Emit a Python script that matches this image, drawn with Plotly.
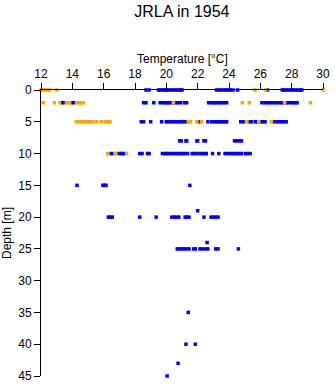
import plotly.graph_objects as go

# ---- data: temperature (degC) readings at each depth (m) ----
blue_d0 = [18.7, 18.9, 19.5, 19.6, 19.75, 19.9, 20.0, 20.15, 20.3, 20.45, 20.6, 20.75, 20.9, 21.0,
           23.2, 23.35, 23.5, 23.65, 23.8, 23.95, 24.1, 24.25, 24.55, 26.45,
           27.4, 27.5, 27.65, 27.8, 27.95, 28.1, 28.25, 28.4, 28.55, 28.65]
blue_d2 = [18.55, 18.7, 19.2, 19.6, 19.75, 19.9, 20.0, 20.1, 20.25, 20.45, 20.6, 20.75, 20.9, 21.15, 21.3,
           22.7, 22.85, 23.0, 23.1, 23.25, 23.4, 23.55, 23.7, 23.85,
           26.1, 26.3, 26.45, 26.6, 26.75, 26.9, 27.05, 27.2, 27.35, 27.5, 27.65, 27.8, 27.95, 28.1, 28.25, 28.35]
blue_d5 = [18.4, 18.55, 19.0, 19.7, 20.0, 20.1, 20.25, 20.4, 20.55, 20.7, 20.85, 21.0, 21.15, 21.3,
           22.1, 22.65, 22.9, 23.05, 23.2, 23.3, 23.45, 23.6, 23.75, 23.85,
           24.75, 24.9, 25.3, 25.45, 25.7, 25.85, 26.0, 26.15, 26.3, 26.85,
           27.05, 27.2, 27.35, 27.5, 27.65]
blue_d8 = [20.85, 20.95, 21.25, 21.3, 21.95, 22.0, 22.4, 22.5, 24.35, 24.5, 24.65, 24.8]
blue_d10 = [18.3, 18.45, 18.8, 18.9, 19.75, 19.9, 20.0, 20.15, 20.3, 20.45, 20.6, 20.75, 20.9,
            21.05, 21.2, 21.35, 21.65, 21.8, 21.95, 22.15, 22.3, 22.45, 22.55, 22.95, 23.35,
            23.75, 23.9, 24.05, 24.2, 24.35, 24.5, 24.65, 24.8, 25.05, 25.2, 25.35]
blue_d15 = [14.3, 15.95, 16.05, 16.15, 21.5]
blue_d19 = [22.0]
blue_d20 = [16.3, 16.4, 16.55, 18.3, 19.35, 20.35, 20.5, 20.65, 20.8, 21.2, 21.3, 21.45,
            22.4, 22.85, 23.0, 23.15, 23.3]
blue_d24 = [22.6]
blue_d25 = [20.7, 20.85, 21.0, 21.15, 21.3, 21.45, 21.75, 21.85, 22.15, 22.3, 22.5, 22.65,
            23.15, 23.3, 24.6]
blue_d35 = [21.4]
blue_d40 = [21.25, 21.85]
blue_d43 = [20.75]
blue_d45 = [20.05]

# blue readings drawn on top of the orange ones
blue_top_d2 = [13.4, 14.05]
blue_top_d10 = [16.5, 17.0, 17.15, 17.25]

orange_d0 = [12.0, 12.15, 12.3, 12.45, 12.55, 13.0, 25.65, 26.35, 30.0]
orange_d2 = [12.15, 12.85, 13.2, 13.35, 13.5, 13.65, 13.8, 13.95, 14.1, 14.25, 14.4, 14.55, 14.7,
             20.45, 24.85, 25.3, 27.55, 29.2]
orange_d5 = [14.25, 14.4, 14.55, 14.7, 14.85, 15.0, 15.15, 15.3, 15.55, 15.85, 16.1, 16.25, 16.4,
             21.4, 21.55, 21.95, 22.25, 25.15, 25.9, 26.7]
orange_d10 = [16.25, 16.4, 16.6, 16.75, 16.9, 17.3, 17.45]

x_ticks = [12, 14, 16, 18, 20, 22, 24, 26, 28, 30]
y_ticks = [0, 5, 10, 15, 20, 25, 30, 35, 40, 45]


def flatten(pairs):
    xs, ys = [], []
    for depth, temps in pairs:
        xs += temps
        ys += [depth] * len(temps)
    return xs, ys


bx, by = flatten([(0, blue_d0), (2, blue_d2), (5, blue_d5), (8, blue_d8), (10, blue_d10),
                  (15, blue_d15), (19, blue_d19), (20, blue_d20), (24, blue_d24), (25, blue_d25),
                  (35, blue_d35), (40, blue_d40), (43, blue_d43), (45, blue_d45)])
ox, oy = flatten([(0, orange_d0), (2, orange_d2), (5, orange_d5), (10, orange_d10)])
tx, ty = flatten([(2, blue_top_d2), (10, blue_top_d10)])

BLUE = "#0000ff"
ORANGE = "#ffa500"
mk = dict(symbol="square", size=3.5, line=dict(width=0))

fig = go.Figure()
fig.add_trace(go.Scatter(x=bx, y=by, mode="markers", marker=dict(color=BLUE, **mk), cliponaxis=False))
fig.add_trace(go.Scatter(x=ox, y=oy, mode="markers", marker=dict(color=ORANGE, **mk), cliponaxis=False))
fig.add_trace(go.Scatter(x=tx, y=ty, mode="markers", marker=dict(color=BLUE, **mk), cliponaxis=False))

FONT = "Liberation Sans, Arial, Helvetica, sans-serif"
fig.update_layout(
    width=335, height=384,
    margin=dict(l=41, r=12, t=90, b=8),
    paper_bgcolor="white", plot_bgcolor="white",
    showlegend=False,
    font=dict(family=FONT, size=12, color="black"),
    title=dict(text="JRLA in 1954", x=0.543, xanchor="center", y=1 - 11 / 384, yanchor="middle",
               yref="container", font=dict(size=16, family=FONT, color="black")),
    xaxis=dict(side="top", range=[12, 30], tickvals=x_ticks, ticks="outside", ticklen=6,
               tickwidth=1, tickcolor="black", showline=True, linecolor="black", linewidth=1,
               showgrid=False, zeroline=False, mirror=False, automargin=False),
    yaxis=dict(range=[45, 0], tickvals=y_ticks, ticks="outside", ticklen=6, tickwidth=1,
               tickcolor="black", showline=True, linecolor="black", linewidth=1,
               showgrid=False, zeroline=False, automargin=False,
               title=dict(text="Depth [m]", standoff=6, font=dict(size=12))),
    annotations=[dict(text="Temperature [°C]", xref="paper", yref="paper", x=0.5,
                      y=(376 - 59) / 286, xanchor="center", yanchor="middle", showarrow=False,
                      font=dict(size=12, family=FONT, color="black"))],
)

fig.write_html("out.html")
